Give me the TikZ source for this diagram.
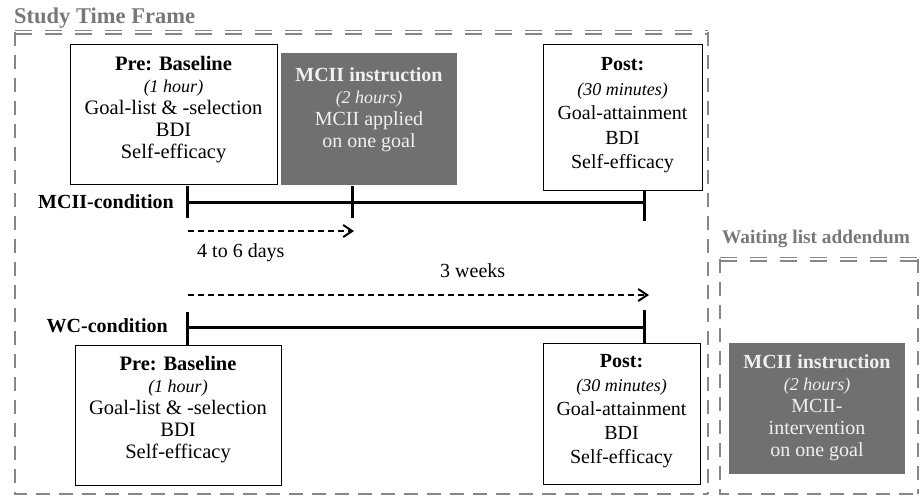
\documentclass[tikz,border=0pt]{standalone}
\usepackage{fontspec}
\setmainfont{Liberation Serif}
\usetikzlibrary{arrows.meta,positioning}

\definecolor{framegray}{RGB}{135,135,135}
\definecolor{titlegray}{RGB}{120,120,120}
\definecolor{boxgray}{RGB}{112,112,112}
\definecolor{boxtext}{RGB}{240,240,240}

\newcommand{\dur}[1]{{\itshape\fontsize{18}{22}\selectfont #1}}

\begin{document}
\begin{tikzpicture}[x=1pt,y=-1pt,
  frame/.style={framegray,line width=2.4pt,dash pattern=on 14pt off 9pt},
  frametop/.style={framegray,line width=1.5pt,double=white,double distance=2pt,dash pattern=on 17pt off 13pt},
  wbox/.style={draw,line width=1pt,inner sep=0pt},
  gbox/.style={fill=boxgray,inner sep=0pt},
  body/.style={align=center,inner sep=0pt,font=\fontsize{20}{22}\selectfont},
  title/.style={text=titlegray,inner sep=0pt,font=\bfseries\fontsize{22.5}{24}\selectfont},
  cond/.style={inner sep=0pt,font=\bfseries\fontsize{20}{24}\selectfont},
  timeline/.style={line width=3pt},
  span/.style={line width=2pt,dash pattern=on 6pt off 4pt,-{Straight Barb[length=9pt,width=12pt]}}
]
\useasboundingbox (0,0) rectangle (920,496);

% Dashed frames
\draw[frametop] (15,32) -- (708,32);
\draw[frame] (15,32) -- (15,494) -- (708,494);
\draw[frame] (708,32) -- (708,494);
\draw[frametop] (720,259) -- (918,259);
\draw[frame] (720,259) -- (720,494) -- (918,494);
\draw[frame] (918,259) -- (918,494);

\node[title,anchor=base west] (study) at (14,23) {Study Time Frame};
\node[title,anchor=base west,font=\bfseries\fontsize{19.3}{22}\selectfont] (wait) at (722,243) {Waiting list addendum};

% MCII-condition
\node[wbox,minimum width=207pt,minimum height=140pt] (pre1) at (173.5,114) {};
\node[body,font=\fontsize{20.5}{22}\selectfont,below=13pt of pre1.north] (pre1t) {\textbf{Pre: Baseline}\\ \dur{(1 hour)}\\ Goal-list \& -selection\\ BDI\\ Self-efficacy};
\node[gbox,minimum width=176pt,minimum height=132pt] (mcii1) at (369,119) {};
\node[body,text=boxtext,below=15pt of mcii1.north] (mcii1t) {\textbf{MCII instruction}\\ \dur{(2 hours)}\\ MCII applied\\ on one goal};
\node[wbox,minimum width=159pt,minimum height=146pt] (post1) at (622.5,117) {};
\node[body,font=\fontsize{20}{24.5}\selectfont,below=14pt of post1.north] (post1t) {\textbf{Post:}\\ \dur{(30 minutes)}\\ Goal-attainment\\ BDI\\ Self-efficacy};

\node[cond,anchor=base east] (mlab) at (174,208) {MCII-condition};
\coordinate (m0) at (187,202);
\coordinate (m2) at (352,202);
\coordinate (m1) at (644,202);
\draw[timeline] (m0) -- (m1);
\draw[timeline] ([yshift=16pt]m0) -- ([yshift=-16pt]m0);
\draw[timeline] ([yshift=16pt]m2) -- ([yshift=-16pt]m2);
\draw[timeline] ([yshift=12pt]m1) -- ([yshift=-19pt]m1);

% Durations
\coordinate (a0) at (188,231);
\coordinate (a1) at (354,231);
\draw[span] (a0) -- (a1);
\node[body,anchor=base west] (days) at (197,257) {4 to 6 days};
\node[body,anchor=base west] (weeks) at (440,277) {3 weeks};
\coordinate (b0) at (188,295);
\coordinate (b1) at (649,295);
\draw[span] (b0) -- (b1);

% WC-condition
\node[cond,anchor=base east] (wlab) at (168,332) {WC-condition};
\coordinate (w0) at (187,327);
\coordinate (w1) at (644,327);
\draw[timeline] (w0) -- (w1);
\draw[timeline] ([yshift=15pt]w0) -- ([yshift=-18pt]w0);
\draw[timeline] ([yshift=17pt]w1) -- ([yshift=-16pt]w1);

\node[wbox,minimum width=206pt,minimum height=140pt] (pre2) at (178,415) {};
\node[body,font=\fontsize{20.5}{22}\selectfont,below=12pt of pre2.north] (pre2t) {\textbf{Pre: Baseline}\\ \dur{(1 hour)}\\ Goal-list \& -selection\\ BDI\\ Self-efficacy};
\node[wbox,minimum width=157pt,minimum height=141pt] (post2) at (621.5,413.5) {};
\node[body,font=\fontsize{20}{24}\selectfont,below=12pt of post2.north] (post2t) {\textbf{Post:}\\ \dur{(30 minutes)}\\ Goal-attainment\\ BDI\\ Self-efficacy};

% Waiting list
\node[gbox,minimum width=176pt,minimum height=131pt] (mcii2) at (817,408.5) {};
\node[body,text=boxtext,below=12pt of mcii2.north] (mcii2t) {\textbf{MCII instruction}\\ \dur{(2 hours)}\\ MCII-\\ intervention\\ on one goal};

\end{tikzpicture}
\end{document}
